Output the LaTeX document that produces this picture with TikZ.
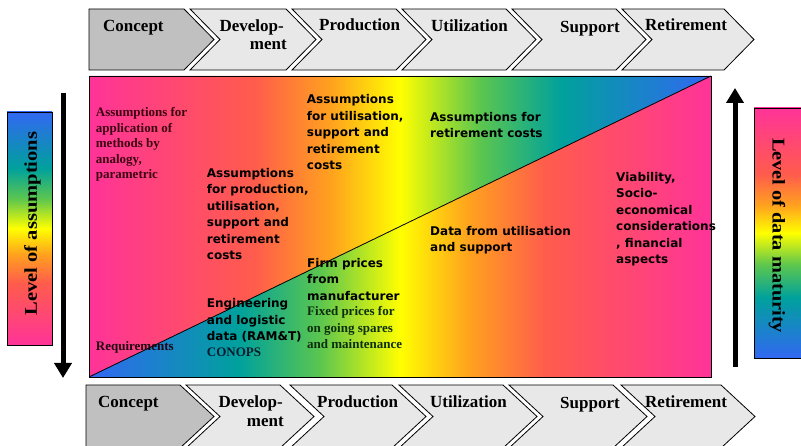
\documentclass[tikz,border=0pt]{standalone}
\usepackage{fontspec}
\setmainfont{Liberation Serif}
\newfontfamily\vsans{DejaVu Sans}
\usetikzlibrary{arrows.meta}
\definecolor{rbpink}{HTML}{FF3399}
\definecolor{rbred}{HTML}{FF5C4C}
\definecolor{rborange}{HTML}{FFA11E}
\definecolor{rbyellow}{HTML}{FFFF00}
\definecolor{rbgreen}{HTML}{5CC64E}
\definecolor{rbteal}{HTML}{00A19C}
\definecolor{rbblue}{HTML}{3168F2}
\definecolor{chevgray}{HTML}{E8E8E8}
\definecolor{chevdark}{HTML}{C0C0C0}
\definecolor{txtred}{HTML}{3C0412}
\definecolor{txtdark}{HTML}{200612}
\definecolor{txtgreen}{HTML}{0C2E0C}
\definecolor{txtnavy}{HTML}{081C30}
\pgfdeclarehorizontalshading{rbA}{100bp}{color(0bp)=(rbpink); color(25bp)=(rbpink); color(38.3bp)=(rbred); color(44.4bp)=(rborange); color(50bp)=(rbyellow); color(56.4bp)=(rbgreen); color(62.9bp)=(rbteal); color(75bp)=(rbblue); color(100bp)=(rbblue)}
\pgfdeclarehorizontalshading{rbB}{100bp}{color(0bp)=(rbblue); color(25bp)=(rbblue); color(37.1bp)=(rbteal); color(43.6bp)=(rbgreen); color(50bp)=(rbyellow); color(55.6bp)=(rborange); color(61.7bp)=(rbred); color(75bp)=(rbpink); color(100bp)=(rbpink)}
\pgfdeclareverticalshading{rbAv}{100bp}{color(0bp)=(rbpink); color(25bp)=(rbpink); color(38.3bp)=(rbred); color(44.4bp)=(rborange); color(50bp)=(rbyellow); color(56.4bp)=(rbgreen); color(62.9bp)=(rbteal); color(75bp)=(rbblue); color(100bp)=(rbblue)}
\pgfdeclareverticalshading{rbBv}{100bp}{color(0bp)=(rbblue); color(25bp)=(rbblue); color(37.1bp)=(rbteal); color(43.6bp)=(rbgreen); color(50bp)=(rbyellow); color(55.6bp)=(rborange); color(61.7bp)=(rbred); color(75bp)=(rbpink); color(100bp)=(rbpink)}
\tikzset{
  chev/.style={draw=black, line width=0.8pt, fill=chevgray, line join=miter},
  chevc/.style={chev, fill=chevdark},
  chevtxt/.style={font=\bfseries\fontsize{17}{20}\selectfont, inner sep=0pt, anchor=base west},
  sanstxt/.style={font=\vsans\bfseries\fontsize{12}{16.5}\selectfont, align=left, inner sep=0pt, anchor=north west},
  seriftxt/.style={font=\bfseries\fontsize{13}{15.5}\selectfont, align=left, inner sep=0pt, anchor=north west},
  bigarrow/.style={line width=5pt, -{Triangle[length=15pt,width=17pt]}},
  sidetxt/.style={font=\bfseries\fontsize{18}{20}\selectfont, inner sep=0pt},
  sidebar/.style={draw=black, line width=0.6pt}
}
\begin{document}
\begin{tikzpicture}[x=1pt,y=-1pt]
\useasboundingbox (0,0) rectangle (801,446);
\fill[white] (0,0) rectangle (801,446);
% main rainbow panel
\shade[shading=rbA] (89,76) -- (711,76) -- (89,377) -- cycle;
\shade[shading=rbB] (711,76) -- (711,377) -- (89,377) -- cycle;
\draw[line width=0.8pt] (89,76) rectangle (711,377);
\draw[line width=0.8pt] (89,377) -- (711,76);
% top row of chevrons
\draw[chevc] (89,9) -- (184,9) -- (214,39.5) -- (184,70) -- (89,70) -- cycle;
\draw[chev] (190,9) -- (286,9) -- (316,39.5) -- (286,70) -- (190,70) -- (220,39.5) -- cycle;
\draw[chev] (292,9) -- (396,9) -- (426,39.5) -- (396,70) -- (292,70) -- (322,39.5) -- cycle;
\draw[chev] (402,9) -- (506,9) -- (536,39.5) -- (506,70) -- (402,70) -- (432,39.5) -- cycle;
\draw[chev] (512,9) -- (616,9) -- (646,39.5) -- (616,70) -- (512,70) -- (542,39.5) -- cycle;
\draw[chev] (622,9) -- (724,9) -- (754,39.5) -- (724,70) -- (622,70) -- (652,39.5) -- cycle;
\node[chevtxt] (tc) at (103,32) {Concept};
\node[chevtxt, anchor=base east] (td1) at (284,32) {Develop-};
\node[chevtxt, anchor=base east] (td2) at (287,50) {ment};
\node[chevtxt] (tp) at (319,31) {Production};
\node[chevtxt] (tu) at (431,32) {Utilization};
\node[chevtxt] (ts) at (560,33) {Support};
\node[chevtxt] (tr) at (645,31) {Retirement};
% bottom row of chevrons
\draw[chevc] (86,385) -- (180,385) -- (214,416.5) -- (180,448) -- (86,448) -- cycle;
\draw[chev] (186,385) -- (280,385) -- (314,416.5) -- (280,448) -- (186,448) -- (220,416.5) -- cycle;
\draw[chev] (290,385) -- (392,385) -- (426,416.5) -- (392,448) -- (290,448) -- (324,416.5) -- cycle;
\draw[chev] (399,385) -- (503,385) -- (537,416.5) -- (503,448) -- (399,448) -- (433,416.5) -- cycle;
\draw[chev] (509,385) -- (613,385) -- (647,416.5) -- (613,448) -- (509,448) -- (543,416.5) -- cycle;
\draw[chev] (621,385) -- (721,385) -- (755,416.5) -- (721,448) -- (621,448) -- (655,416.5) -- cycle;
\node[chevtxt] (bc) at (98,408) {Concept};
\node[chevtxt, anchor=base east] (bd1) at (283,407) {Develop-};
\node[chevtxt, anchor=base east] (bd2) at (284,427) {ment};
\node[chevtxt] (bp) at (317,407) {Production};
\node[chevtxt] (bu) at (430,407.5) {Utilization};
\node[chevtxt] (bs) at (560,409) {Support};
\node[chevtxt] (br) at (645,407.5) {Retirement};
% side bars
\shadedraw[shading=rbAv, sidebar] (7,112) rectangle (52,345);
\shadedraw[shading=rbBv, sidebar] (754,108) rectangle (804,358);
\node[sidetxt, rotate=90] (la) at (32.5,223.5) {\scalebox{1.14}[1]{Level of assumptions}};
\node[sidetxt, rotate=-90] (ld) at (777,235.5) {\scalebox{1.13}[1]{Level of data maturity}};
% arrows
\coordinate (aL1) at (63,93);
\coordinate (aL2) at (63,378);
\coordinate (aR1) at (735,367);
\coordinate (aR2) at (735,88);
\draw[bigarrow] (aL1) -- (aL2);
\draw[bigarrow] (aR1) -- (aR2);
% texts in panel
\node[seriftxt, text=txtred] (f) at (95.7,107.6) {Assumptions for\\application of\\methods by\\analogy,\\parametric};
\node[seriftxt, text=txtdark] (g) at (95.7,341.3) {Requirements};
\node[sanstxt] (a) at (206.7,168) {Assumptions\\for production,\\utilisation,\\support and\\retirement\\costs};
\node[sanstxt] (b) at (306.7,94.6) {Assumptions\\for utilisation,\\support and\\retirement\\costs};
\node[sanstxt] (c) at (307,258) {Firm prices\\from\\manufacturer};
\node[seriftxt, text=txtgreen, font=\bfseries\fontsize{13}{16.7}\selectfont] (d) at (307,306) {Fixed prices for\\on going spares\\and maintenance};
\node[sanstxt] (e) at (206.7,298.6) {Engineering\\and logistic\\data (RAM\&T)};
\node[seriftxt, text=txtnavy] (e2) at (206.7,347.3) {CONOPS};
\node[sanstxt] (h) at (430,112) {Assumptions for\\retirement costs};
\node[sanstxt] (i) at (430,226) {Data from utilisation\\and support};
\node[sanstxt] (j) at (616,172) {Viability,\\Socio-\\economical\\considerations\\, financial\\aspects};
\end{tikzpicture}
\end{document}
